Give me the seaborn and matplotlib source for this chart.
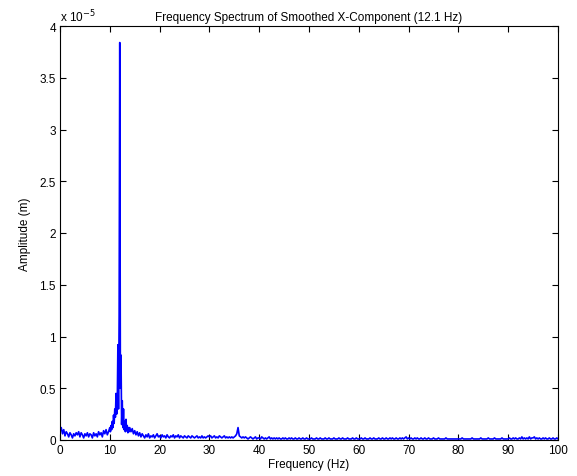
import numpy as np
import pandas as pd
import matplotlib
matplotlib.use("Agg")
import matplotlib.pyplot as plt
import seaborn as sns
from matplotlib.ticker import FuncFormatter

# Amplitude values, in units of 1e-5 m
# 0 - 10 Hz, step 0.25 Hz
amp_0_10 = [0.08, 0.12, 0.06, 0.10, 0.04, 0.08, 0.06, 0.03, 0.07, 0.05,
            0.02, 0.06, 0.04, 0.07, 0.05, 0.08, 0.03, 0.07, 0.05, 0.02,
            0.06, 0.04, 0.07, 0.03, 0.06, 0.05, 0.02, 0.07, 0.04, 0.06,
            0.03, 0.08, 0.05, 0.07, 0.03, 0.09, 0.06, 0.10, 0.05, 0.08]
# 10 - 14 Hz, step 0.125 Hz (peak region)
amp_10_14 = [0.12, 0.08, 0.14, 0.10, 0.18, 0.12, 0.24, 0.16,
             0.30, 0.22, 0.45, 0.25, 0.35, 0.92, 0.30, 1.20,
             3.84, 0.50, 0.82, 0.15, 0.38, 0.12, 0.30, 0.10,
             0.18, 0.08, 0.20, 0.09, 0.14, 0.07, 0.12, 0.08]
# 14 - 30 Hz, step 0.25 Hz
amp_14_30 = [0.12, 0.08, 0.11, 0.06, 0.09, 0.05, 0.08, 0.04, 0.07, 0.03,
             0.06, 0.04, 0.02, 0.05, 0.03, 0.06, 0.02, 0.04, 0.03, 0.05,
             0.02, 0.04, 0.06, 0.03, 0.04, 0.02, 0.05, 0.03, 0.04, 0.02,
             0.05, 0.03, 0.02, 0.04, 0.03, 0.05, 0.02, 0.04, 0.03, 0.05,
             0.02, 0.04, 0.03, 0.02, 0.04, 0.03, 0.02, 0.04, 0.03, 0.02,
             0.04, 0.03, 0.02, 0.03, 0.04, 0.02, 0.03, 0.02, 0.04, 0.02,
             0.03, 0.02, 0.03, 0.04]
# 30 - 40 Hz, step 0.25 Hz
amp_30_40 = [0.03, 0.04, 0.02, 0.03, 0.04, 0.02, 0.03, 0.02, 0.04, 0.03,
             0.02, 0.03, 0.04, 0.02, 0.03, 0.02, 0.03, 0.02, 0.03, 0.02,
             0.03, 0.04, 0.06, 0.12, 0.04, 0.03, 0.02, 0.03, 0.02, 0.03,
             0.02, 0.01, 0.02, 0.03, 0.02, 0.01, 0.02, 0.03, 0.01, 0.02]
# 40 - 100 Hz, step 0.25 Hz
amp_40_100 = [
    0.02, 0.01, 0.03, 0.02, 0.01, 0.02, 0.01, 0.02, 0.03, 0.01, 0.02, 0.01, 0.02, 0.01, 0.02, 0.01, 0.02, 0.01, 0.01, 0.02,
    0.01, 0.02, 0.01, 0.01, 0.02, 0.01, 0.02, 0.01, 0.01, 0.02, 0.01, 0.01, 0.02, 0.01, 0.01, 0.02, 0.01, 0.01, 0.02, 0.01,
    0.01, 0.01, 0.02, 0.01, 0.01, 0.01, 0.02, 0.01, 0.01, 0.02, 0.01, 0.01, 0.01, 0.02, 0.01, 0.01, 0.02, 0.01, 0.01, 0.01,
    0.02, 0.01, 0.01, 0.01, 0.02, 0.01, 0.01, 0.02, 0.01, 0.01, 0.01, 0.02, 0.01, 0.01, 0.01, 0.02, 0.01, 0.01, 0.02, 0.01,
    0.01, 0.01, 0.02, 0.01, 0.01, 0.02, 0.01, 0.01, 0.01, 0.02, 0.01, 0.01, 0.02, 0.01, 0.01, 0.01, 0.02, 0.01, 0.01, 0.02,
    0.01, 0.01, 0.02, 0.01, 0.01, 0.02, 0.01, 0.02, 0.01, 0.01, 0.02, 0.01, 0.01, 0.02, 0.01, 0.02, 0.01, 0.02, 0.03, 0.01,
    0.02, 0.01, 0.02, 0.01, 0.01, 0.02, 0.01, 0.02, 0.01, 0.01, 0.02, 0.01, 0.01, 0.02, 0.01, 0.01, 0.02, 0.01, 0.01, 0.01,
    0.02, 0.01, 0.01, 0.01, 0.02, 0.01, 0.01, 0.01, 0.01, 0.01, 0.02, 0.01, 0.01, 0.01, 0.01, 0.01, 0.01, 0.01, 0.01, 0.01,
    0.01, 0.01, 0.01, 0.02, 0.01, 0.01, 0.01, 0.01, 0.01, 0.01, 0.01, 0.02, 0.01, 0.01, 0.01, 0.01, 0.01, 0.01, 0.02, 0.01,
    0.01, 0.01, 0.01, 0.01, 0.02, 0.01, 0.01, 0.01, 0.01, 0.02, 0.01, 0.01, 0.01, 0.01, 0.01, 0.02, 0.01, 0.01, 0.01, 0.01,
    0.01, 0.02, 0.01, 0.01, 0.02, 0.01, 0.02, 0.01, 0.01, 0.02, 0.01, 0.03, 0.01, 0.02, 0.01, 0.02, 0.01, 0.03, 0.01, 0.02,
    0.02, 0.03, 0.01, 0.02, 0.01, 0.02, 0.01, 0.01, 0.02, 0.01, 0.02, 0.01, 0.01, 0.02, 0.01, 0.01, 0.02, 0.01, 0.01, 0.02,
    0.01]

x_ticks = [0, 10, 20, 30, 40, 50, 60, 70, 80, 90, 100]
y_ticks = [0, 0.5, 1, 1.5, 2, 2.5, 3, 3.5, 4]

freq = np.concatenate([
    np.arange(len(amp_0_10)) * 0.25,
    10 + np.arange(len(amp_10_14)) * 0.125,
    14 + np.arange(len(amp_14_30)) * 0.25,
    30 + np.arange(len(amp_30_40)) * 0.25,
    40 + np.arange(len(amp_40_100)) * 0.25,
])
amp_units = np.array(amp_0_10 + amp_10_14 + amp_14_30 + amp_30_40 + amp_40_100)
df = pd.DataFrame({"Frequency": freq, "Amplitude": amp_units * 1e-5})

sns.set_theme(style="white")
plt.rcParams["font.family"] = ["Liberation Sans", "DejaVu Sans"]
fs = 8.5

fig = plt.figure(figsize=(5.77, 4.77), dpi=100)
ax = fig.add_axes([60 / 577, 36 / 477, 498 / 577, 414 / 477])

sns.lineplot(data=df, x="Frequency", y="Amplitude", ax=ax, color=(0, 0, 1),
             linewidth=1.2, estimator=None, sort=False)

ax.set_xlim(0, 100)
ax.set_ylim(0, 4e-5)
ax.set_xticks(x_ticks)
ax.set_yticks([v * 1e-5 for v in y_ticks])
ax.xaxis.set_major_formatter(FuncFormatter(lambda v, p: f"{v:g}"))
ax.yaxis.set_major_formatter(FuncFormatter(lambda v, p: f"{round(v / 1e-5, 2):g}"))

for s in ax.spines.values():
    s.set_color("black")
    s.set_linewidth(0.8)
ax.tick_params(direction="in", length=4, width=0.8, colors="black",
               top=True, right=True, bottom=True, left=True,
               labelsize=fs, pad=3)

ax.set_xlabel("Frequency (Hz)", fontsize=fs, color="black", labelpad=1)
ax.set_ylabel("Amplitude (m)", fontsize=fs, color="black", labelpad=6)
ax.set_title("Frequency Spectrum of Smoothed X-Component (12.1 Hz)",
             fontsize=fs, color="black", pad=4)
ax.text(0, 1.005, r"x 10$^{-5}$", transform=ax.transAxes, fontsize=fs,
        ha="left", va="bottom", color="black")
ax.grid(False)

fig.savefig("out.png", dpi=100, facecolor="white")
